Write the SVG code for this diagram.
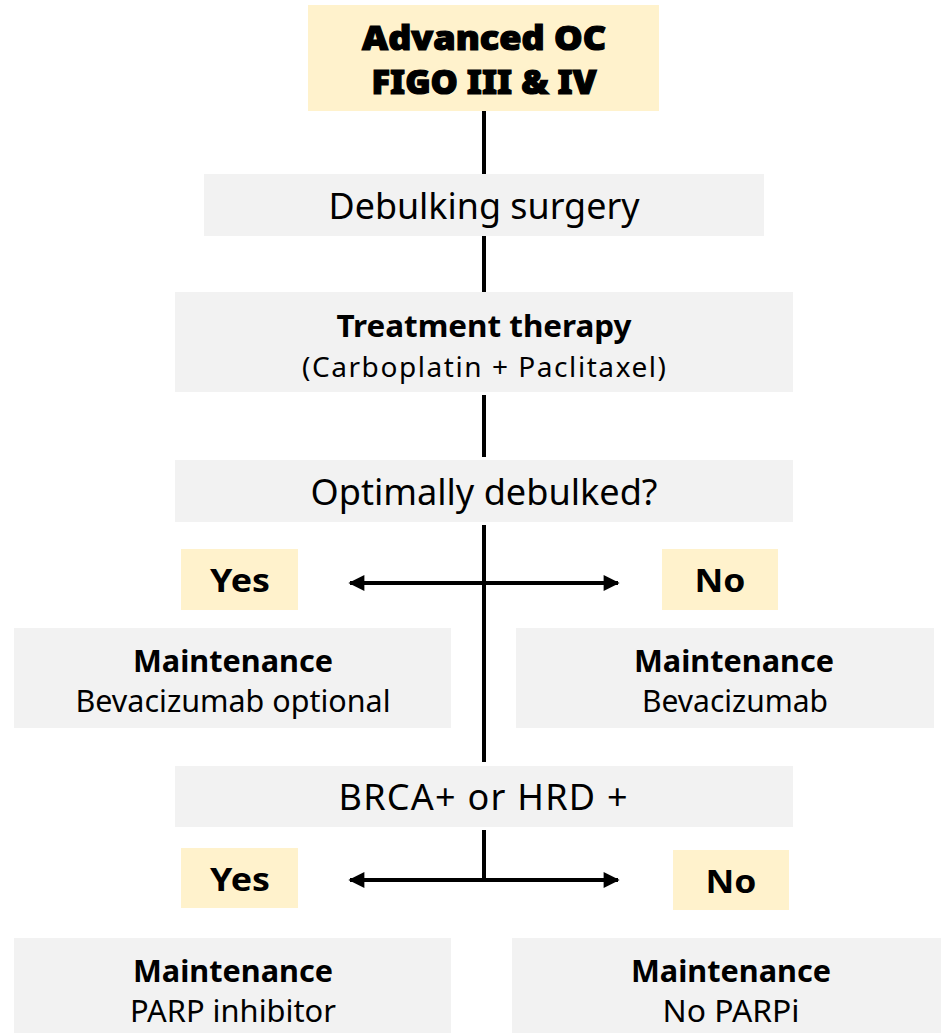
<svg xmlns="http://www.w3.org/2000/svg" width="941" height="1033" viewBox="0 0 941 1033">
<defs>
<marker id="ah" viewBox="0 0 10 10" refX="9" refY="5" markerWidth="4.5" markerHeight="4" orient="auto-start-reverse" markerUnits="strokeWidth">
<path d="M0,0 L10,5 L0,10 Z" fill="#000"/>
</marker>
<style>
.y{fill:#FFF2CC}
.g{fill:#F2F2F2}
.t{font-family:"Noto Sans","Open Sans","Liberation Sans",sans-serif;fill:#000;text-anchor:middle}
.b{font-weight:bold}
.h{font-weight:900;stroke:#000;stroke-width:1.2}
.c{stroke:#000;stroke-width:4;fill:none}
</style>
</defs>
<rect width="941" height="1033" fill="#fff"/>
<g id="connectors">
<line class="c" x1="484" y1="111" x2="484" y2="174"/>
<line class="c" x1="484" y1="236" x2="484" y2="292"/>
<line class="c" x1="484" y1="395" x2="484" y2="457"/>
<line class="c" x1="484" y1="525" x2="484" y2="762"/>
<line class="c" x1="350" y1="583" x2="618" y2="583" marker-start="url(#ah)" marker-end="url(#ah)"/>
<line class="c" x1="484" y1="830" x2="484" y2="880"/>
<line class="c" x1="350" y1="880" x2="618" y2="880" marker-start="url(#ah)" marker-end="url(#ah)"/>
</g>
<g id="n-advanced">
<rect class="y" x="308" y="5" width="351" height="106"/>
<text class="t h" x="484" y="50" font-size="33" textLength="244" lengthAdjust="spacingAndGlyphs">Advanced OC</text>
<text class="t h" x="484" y="94" font-size="33" textLength="225" lengthAdjust="spacingAndGlyphs">FIGO III &amp; IV</text>
</g>
<g id="n-debulking">
<rect class="g" x="204" y="174" width="560" height="62"/>
<text class="t" x="484" y="219" font-size="36" textLength="311" lengthAdjust="spacingAndGlyphs">Debulking surgery</text>
</g>
<g id="n-treatment">
<rect class="g" x="175" y="292" width="618" height="100"/>
<text class="t b" x="484" y="337" font-size="31" textLength="295" lengthAdjust="spacingAndGlyphs">Treatment therapy</text>
<text class="t" x="484" y="377" font-size="28" textLength="364">(Carboplatin + Paclitaxel)</text>
</g>
<g id="n-optimal">
<rect class="g" x="175" y="460" width="618" height="62"/>
<text class="t" x="484" y="505" font-size="36" textLength="347" lengthAdjust="spacingAndGlyphs">Optimally debulked?</text>
</g>
<g id="n-yes1">
<rect class="y" x="181" y="549" width="117" height="61"/>
<text class="t b" x="240" y="592" font-size="33" textLength="60" lengthAdjust="spacingAndGlyphs">Yes</text>
</g>
<g id="n-no1">
<rect class="y" x="662" y="549" width="116" height="61"/>
<text class="t b" x="720" y="592" font-size="33" textLength="51" lengthAdjust="spacingAndGlyphs">No</text>
</g>
<g id="n-maint1">
<rect class="g" x="14" y="628" width="437" height="100"/>
<text class="t b" x="233" y="672" font-size="31" textLength="200" lengthAdjust="spacingAndGlyphs">Maintenance</text>
<text class="t" x="233" y="712" font-size="30" textLength="315" lengthAdjust="spacingAndGlyphs">Bevacizumab optional</text>
</g>
<g id="n-maint2">
<rect class="g" x="516" y="628" width="418" height="100"/>
<text class="t b" x="734" y="672" font-size="31" textLength="200" lengthAdjust="spacingAndGlyphs">Maintenance</text>
<text class="t" x="735" y="712" font-size="30" textLength="186" lengthAdjust="spacingAndGlyphs">Bevacizumab</text>
</g>
<g id="n-brca">
<rect class="g" x="175" y="766" width="618" height="61"/>
<text class="t" x="483" y="810" font-size="36" textLength="289">BRCA+ or HRD +</text>
</g>
<g id="n-yes2">
<rect class="y" x="181" y="848" width="117" height="60"/>
<text class="t b" x="240" y="891" font-size="33" textLength="60" lengthAdjust="spacingAndGlyphs">Yes</text>
</g>
<g id="n-no2">
<rect class="y" x="673" y="850" width="116" height="60"/>
<text class="t b" x="731" y="893" font-size="33" textLength="51" lengthAdjust="spacingAndGlyphs">No</text>
</g>
<g id="n-parp">
<rect class="g" x="14" y="938" width="437" height="95"/>
<text class="t b" x="233" y="982" font-size="31" textLength="200" lengthAdjust="spacingAndGlyphs">Maintenance</text>
<text class="t" x="233" y="1022" font-size="30" textLength="206" lengthAdjust="spacingAndGlyphs">PARP inhibitor</text>
</g>
<g id="n-noparp">
<rect class="g" x="512" y="938" width="429" height="95"/>
<text class="t b" x="731" y="982" font-size="31" textLength="200" lengthAdjust="spacingAndGlyphs">Maintenance</text>
<text class="t" x="731" y="1022" font-size="30" textLength="137" lengthAdjust="spacingAndGlyphs">No PARPi</text>
</g>
</svg>
